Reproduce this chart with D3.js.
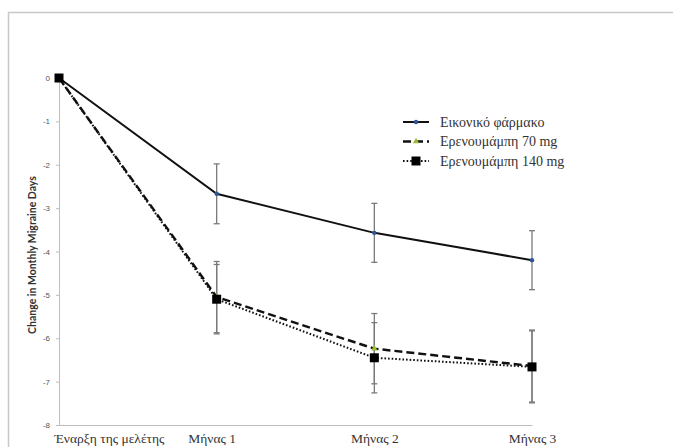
<!DOCTYPE html>
<html><head><meta charset="utf-8">
<script src="https://cdn.jsdelivr.net/npm/d3@7"></script>
<style>body{margin:0;background:#fff}svg{display:block}</style>
</head><body>
<svg id="c" width="673" height="447"></svg>
<script>
const categories = ["Έναρξη της μελέτης", "Μήνας 1", "Μήνας 2", "Μήνας 3"];
const yTicks = [0, -1, -2, -3, -4, -5, -6, -7, -8];
const seriesNames = ["Εικονικό φάρμακο", "Ερενουμάμπη 70 mg", "Ερενουμάμπη 140 mg"];
const placebo = [0, -2.67, -3.57, -4.2];
const placeboErr = [0, 0.69, 0.68, 0.68];
const dose70 = [0, -5.05, -6.24, -6.64];
const dose70Err = [0, 0.82, 0.81, 0.83];
const dose140 = [0, -5.1, -6.45, -6.66];
const dose140Err = [0, 0.8, 0.81, 0.83];
const yLabel = "Change in Monthly Migraine Days";

const svg = d3.select("#c");
// outer frame
svg.append("rect").attr("x", 8.5).attr("y", 12.5).attr("width", 700).attr("height", 500)
  .attr("fill", "none").attr("stroke", "#c8c8c8").attr("stroke-width", 1.5);

const x = d3.scalePoint().domain(categories).range([59, 532]);
const y = d3.scaleLinear().domain([-8, 0]).range([425, 78]);

// axes
const yAxis = svg.append("g").attr("transform", "translate(59,0)")
  .call(d3.axisLeft(y).tickValues(yTicks).tickSize(3).tickPadding(6).tickFormat(d => String(d)));
yAxis.select(".domain").attr("stroke", "#bdbdbd");
yAxis.selectAll(".tick line").attr("stroke", "#bdbdbd");
yAxis.selectAll("text").attr("font-family", "Liberation Sans, sans-serif").attr("font-size", 8).attr("fill", "#555");

const xAxis = svg.append("g").attr("transform", "translate(0,425)")
  .call(d3.axisBottom(x).tickSize(0).tickPadding(8));
xAxis.select(".domain").attr("stroke", "#bdbdbd").attr("stroke-width", 1.2);
xAxis.selectAll("text").attr("font-family", "Liberation Serif, serif").attr("font-size", 13.5).attr("fill", "#333");
xAxis.selectAll(".tick text").filter((d, i) => i === 0).attr("text-anchor", "start").attr("dx", -5);
xAxis.selectAll(".tick text").filter((d, i) => i === 1).attr("dx", -5);

svg.append("text").attr("transform", "translate(36,255) rotate(-90)")
  .attr("text-anchor", "middle").attr("font-family", "Lato, sans-serif")
  .attr("font-weight", "bold").attr("font-size", 10.5).attr("fill", "#333").text(yLabel);

const series = [
  {name: seriesNames[0], vals: placebo, err: placeboErr, dash: null, w: 2, marker: "dot"},
  {name: seriesNames[1], vals: dose70, err: dose70Err, dash: "8,4", w: 2.4, marker: "tri"},
  {name: seriesNames[2], vals: dose140, err: dose140Err, dash: "1.6,2", w: 2, marker: "sq"}
];

// error bars
series.forEach(s => {
  s.vals.forEach((v, i) => {
    if (!s.err[i]) return;
    const cx = x(categories[i]);
    const g = svg.append("g").attr("stroke", "#7a7a7a").attr("stroke-width", 1.3);
    g.append("line").attr("x1", cx).attr("x2", cx).attr("y1", y(v + s.err[i])).attr("y2", y(v - s.err[i]));
    [v + s.err[i], v - s.err[i]].forEach(e =>
      g.append("line").attr("x1", cx - 3).attr("x2", cx + 3).attr("y1", y(e)).attr("y2", y(e)));
  });
});

const line = d3.line().x((d, i) => x(categories[i])).y(d => y(d));
series.forEach(s => {
  svg.append("path").datum(s.vals).attr("d", line).attr("fill", "none")
    .attr("stroke", "#111").attr("stroke-width", s.w).attr("stroke-dasharray", s.dash);
});

function drawMarker(g, type, cx, cy) {
  if (type === "dot") g.append("circle").attr("cx", cx).attr("cy", cy).attr("r", 2.2).attr("fill", "#2f5597");
  if (type === "tri") g.append("path").attr("d", d3.symbol(d3.symbolTriangle, 18)()).attr("transform", `translate(${cx},${cy})`).attr("fill", "#9bbb3b");
  if (type === "sq") g.append("rect").attr("x", cx - 4.5).attr("y", cy - 4.5).attr("width", 9).attr("height", 9).attr("fill", "#000");
}
series.forEach(s => {
  s.vals.forEach((v, i) => drawMarker(svg, s.marker, x(categories[i]), y(v)));
});

// legend
const leg = svg.append("g");
series.forEach((s, i) => {
  const ly = 122 + i * 19.5;
  leg.append("line").attr("x1", 403).attr("x2", 429).attr("y1", ly).attr("y2", ly)
    .attr("stroke", "#111").attr("stroke-width", s.w).attr("stroke-dasharray", s.dash);
  drawMarker(leg, s.marker, 416, ly);
  leg.append("text").attr("x", 440).attr("y", ly + 4.5).attr("font-family", "Liberation Serif, serif")
    .attr("font-size", 14).attr("fill", "#333").text(s.name);
});
</script>
</body></html>
